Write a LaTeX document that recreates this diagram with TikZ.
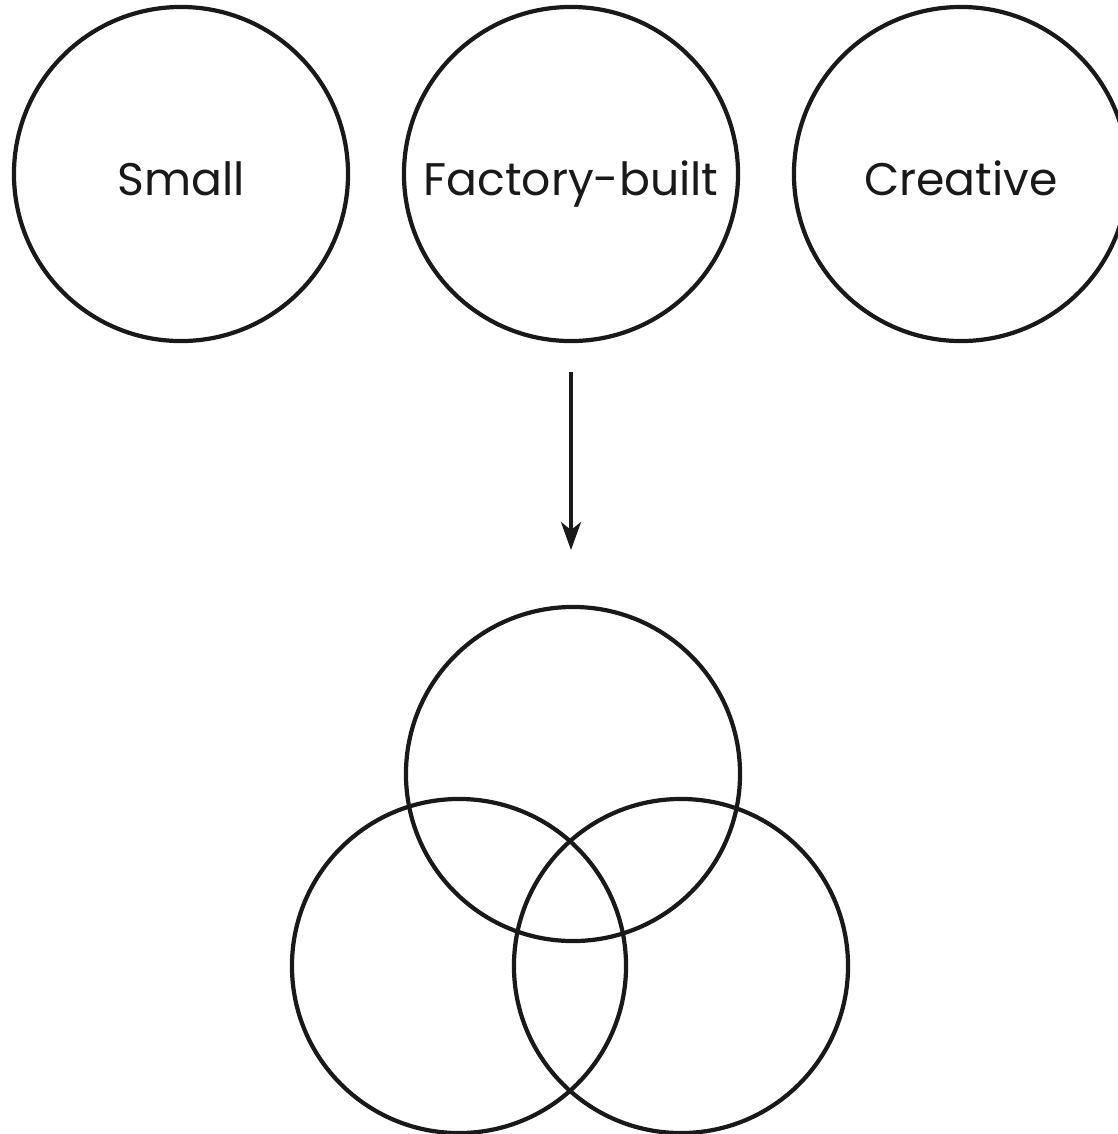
\documentclass[tikz,border=0pt]{standalone}
\usepackage{fontspec}
\setmainfont{Poppins}
\usetikzlibrary{arrows.meta}

\begin{document}
\begin{tikzpicture}[x=0.025cm, y=-0.025cm, line width=3pt,
      every node/.append style={font=\fontsize{32.5}{38}\selectfont, color=black!90}]
    \tikzstyle{ring} = [draw=black!90, circle, inner sep=0pt, minimum size=8.35cm,
      text height=35pt, text depth=3.8pt]
    \useasboundingbox (0,0) rectangle (1118,1134);
    % three ideas
    \node (small) [ring] at (181,174) {Small};
    \node (factory) [ring] at (571,174) {Factory-built};
    \node (creative) [ring] at (961,174) {Creative};
    % combined
    \node (venntop) [ring] at (573,774) {};
    \node (vennleft) [ring] at (459,966) {};
    \node (vennright) [ring] at (681,966) {};
    \draw[-{Stealth[length=0.7cm, width=0.5cm, inset=0.2cm]}, draw=black!90, fill=black!90,
      line width=2.6pt, shorten <=0.72cm, shorten >=1.37cm] (factory) -- (factory |- venntop.north);
  \end{tikzpicture}
\end{document}
